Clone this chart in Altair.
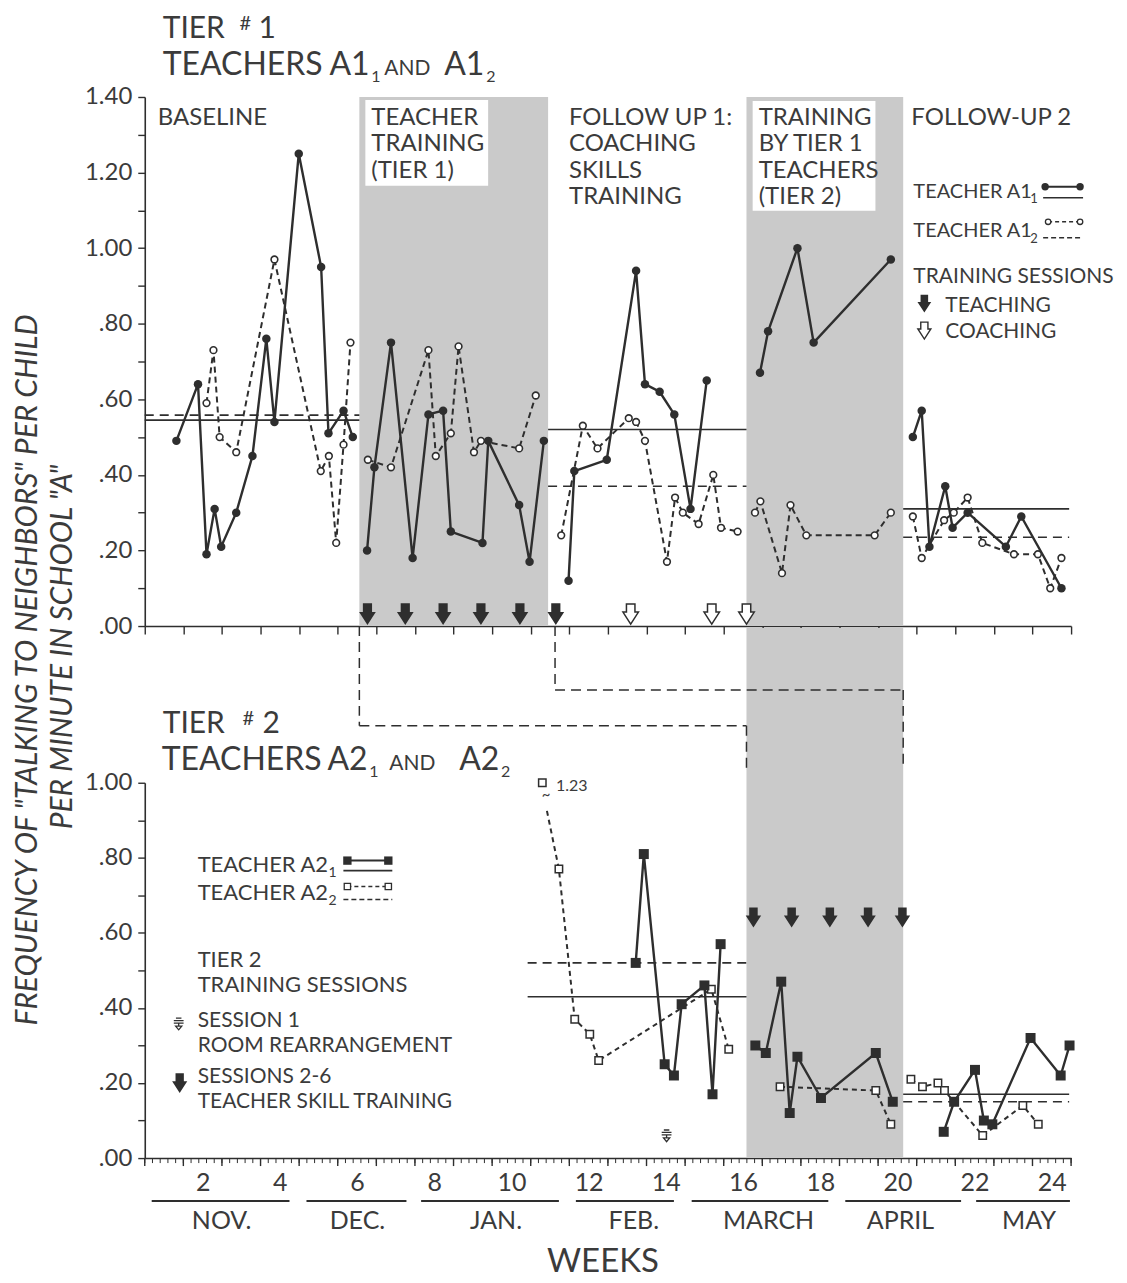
import altair as alt
import pandas as pd

FONT = "Lato"
INK = "#2e2e2e"
TXT = "#3b3b3b"
SHADE = "#cacaca"
W, H_TOP, H_BOT, GAP = 928, 530, 376, 157

# ------------------------------------------------------------------ data
# Tier 1 - Teacher A1_1 (solid line, filled circles): week, frequency
a11_baseline_wk = [1.32, 1.88, 2.10, 2.31, 2.48, 2.87, 3.29, 3.65, 3.86, 4.49, 5.07, 5.26, 5.65, 5.89]
a11_baseline_val = [0.49, 0.64, 0.19, 0.31, 0.21, 0.30, 0.45, 0.76, 0.54, 1.25, 0.95, 0.51, 0.57, 0.50]
a11_training_wk = [6.26, 6.45, 6.88, 7.44, 7.85, 8.23, 8.43, 9.25, 9.40, 10.20, 10.47, 10.84]
a11_training_val = [0.20, 0.42, 0.75, 0.18, 0.56, 0.57, 0.25, 0.22, 0.49, 0.32, 0.17, 0.49]
a11_follow1_wk = [11.48, 11.63, 12.47, 13.23, 13.46, 13.84, 14.22, 14.64, 15.06]
a11_follow1_val = [0.12, 0.41, 0.44, 0.94, 0.64, 0.62, 0.56, 0.31, 0.65]
a11_tier2_wk = [16.44, 16.65, 17.41, 17.83, 19.83]
a11_tier2_val = [0.67, 0.78, 1.00, 0.75, 0.97]
a11_follow2_wk = [20.40, 20.63, 20.83, 21.24, 21.43, 21.82, 22.81, 23.21, 24.25]
a11_follow2_val = [0.50, 0.57, 0.21, 0.37, 0.26, 0.30, 0.21, 0.29, 0.10]

# Tier 1 - Teacher A1_2 (dashed line, open circles)
a12_baseline_wk = [2.10, 2.28, 2.44, 2.87, 3.86, 5.06, 5.27, 5.46, 5.65, 5.83]
a12_baseline_val = [0.59, 0.73, 0.50, 0.46, 0.97, 0.41, 0.45, 0.22, 0.48, 0.75]
a12_training_wk = [6.28, 6.88, 7.85, 8.04, 8.43, 8.63, 9.03, 9.21, 10.20, 10.63]
a12_training_val = [0.44, 0.42, 0.73, 0.45, 0.51, 0.74, 0.46, 0.49, 0.47, 0.61]
a12_follow1_wk = [11.29, 11.85, 12.23, 13.04, 13.23, 13.46, 14.03, 14.24, 14.44, 14.85, 15.23, 15.43, 15.86]
a12_follow1_val = [0.24, 0.53, 0.47, 0.55, 0.54, 0.49, 0.17, 0.34, 0.30, 0.27, 0.40, 0.26, 0.25]
a12_tier2_wk = [16.31, 16.45, 17.01, 17.23, 17.64, 19.41, 19.83]
a12_tier2_val = [0.30, 0.33, 0.14, 0.32, 0.24, 0.24, 0.30]
a12_follow2_wk = [20.40, 20.63, 21.21, 21.46, 21.82, 22.20, 23.02, 23.64, 23.96, 24.25]
a12_follow2_val = [0.29, 0.18, 0.28, 0.30, 0.34, 0.22, 0.19, 0.19, 0.10, 0.18]

# Tier 2 - Teacher A2_1 (solid line, filled squares)
a21_baseline_wk = [13.22, 13.43, 13.97, 14.21, 14.41, 15.00, 15.21, 15.42]
a21_baseline_val = [0.52, 0.81, 0.25, 0.22, 0.41, 0.46, 0.17, 0.57]
a21_training_wk = [16.32, 16.59, 16.99, 17.21, 17.41, 18.02, 19.44, 19.88]
a21_training_val = [0.30, 0.28, 0.47, 0.12, 0.27, 0.16, 0.28, 0.15]
a21_follow_wk = [21.20, 21.47, 22.01, 22.24, 22.46, 23.45, 24.23, 24.46]
a21_follow_val = [0.07, 0.15, 0.235, 0.10, 0.09, 0.32, 0.22, 0.30]

# Tier 2 - Teacher A2_2 (dashed line, open squares)
a22_offscale_wk = [10.80]          # true value 1.23, drawn at the top of the axis
a22_offscale_val = [1.00]
a22_baseline_wk = [10.92, 11.23, 11.64, 12.03, 12.26, 15.18, 15.63]   # first point = end of axis break
a22_baseline_val = [0.925, 0.77, 0.37, 0.33, 0.26, 0.45, 0.29]
a22_training_wk = [16.96, 19.44, 19.83]
a22_training_val = [0.19, 0.18, 0.09]
a22_follow_wk = [20.35, 20.65, 21.05, 21.22, 22.21, 23.25, 23.65]
a22_follow_val = [0.21, 0.19, 0.20, 0.18, 0.06, 0.14, 0.09]

# phase means
top_mean_from = [0.5, 10.95, 20.15]
top_mean_to = [6.06, 16.09, 24.45]
a11_mean = [0.545, 0.52, 0.31]
a12_mean = [0.558, 0.37, 0.235]
bot_mean_from = [10.42, 20.15]
bot_mean_to = [16.09, 24.45]
a21_mean = [0.43, 0.17]
a22_mean = [0.52, 0.15]

# shaded training phases
shade_from = [6.06, 16.09]
shade_to = [10.95, 20.15]

# training sessions
tier1_teaching_wk = [6.27, 7.25, 8.23, 9.21, 10.22, 11.15]
tier1_coaching_wk = [13.09, 15.19, 16.09]
tier2_teaching_wk = [16.27, 17.26, 18.25, 19.24, 20.13]
tier2_session1_wk = [14.02]

# phase-change connectors between tiers (from week, to week)
conn_from = [6.06, 11.13]
conn_to = [16.09, 20.15]

# x axis
week_labels = list(range(2, 25, 2))
month_names = ["NOV.", "DEC.", "JAN.", "FEB.", "MARCH", "APRIL", "MAY"]
month_start = [0.68, 4.69, 7.66, 11.67, 14.67, 18.65, 22.04]
month_end = [4.25, 7.28, 11.23, 14.21, 18.21, 21.65, 24.47]
month_mid = [2.49, 6.01, 9.60, 13.17, 16.66, 20.08, 23.41]

# ------------------------------------------------------------------ helpers
dummy = pd.DataFrame({"k": [0]})


def frame(parts):
    rows = []
    for seg, wk, val in parts:
        rows += [{"w": w, "v": v, "seg": seg} for w, v in zip(wk, val)]
    return pd.DataFrame(rows)


XS = alt.Scale(domain=[0.5, 24.5], nice=False, zero=False)
YS_T = alt.Scale(domain=[0, 1.4], nice=False, zero=True)
YS_B = alt.Scale(domain=[0, 1.0], nice=False, zero=True)

LBL = ("round(datum.value*10) % 2 == 0 ? (datum.value < 1 ? "
       "replace(format(datum.value, '.2f'), '0.', '.') : format(datum.value, '.2f')) : ''")
YAX_T = alt.Axis(values=[round(i / 10, 1) for i in range(15)], labelExpr=LBL, title=None,
                 tickSize=7, labelPadding=6, labelFontSize=24, grid=False)
YAX_B = alt.Axis(values=[round(i / 10, 1) for i in range(11)], labelExpr=LBL, title=None,
                 tickSize=7, labelPadding=6, labelFontSize=24, grid=False)
XAX_T = alt.Axis(values=[0.5 + k for k in range(25)], labels=False, tickSize=8, title=None, grid=False)
XAX_B = alt.Axis(values=week_labels, ticks=False, labelPadding=12, labelFontSize=25,
                 title=None, grid=False, labelFlush=False)


def XT(f):
    return alt.X(f"{f}:Q", scale=XS, axis=XAX_T)


def XB(f):
    return alt.X(f"{f}:Q", scale=XS, axis=XAX_B)


def YT(f):
    return alt.Y(f"{f}:Q", scale=YS_T, axis=YAX_T)


def YB(f):
    return alt.Y(f"{f}:Q", scale=YS_B, axis=YAX_B)


def text(s, x, y, size=22, align="left", baseline="alphabetic", style="normal", angle=None, lh=None):
    kw = dict(text=s, fontSize=size, align=align, baseline=baseline, font=FONT, color=TXT, fontStyle=style)
    if angle is not None:
        kw["angle"] = angle
    if lh is not None:
        kw["lineHeight"] = lh
    return alt.Chart(dummy).mark_text(**kw).encode(x=alt.value(x), y=alt.value(y))


def hrule(x0, x1, y, dash=None, width=1.6):
    kw = dict(color=INK, strokeWidth=width)
    if dash:
        kw["strokeDash"] = dash
    return alt.Chart(dummy).mark_rule(**kw).encode(x=alt.value(x0), x2=alt.value(x1), y=alt.value(y))


def sym(x, y, shape, size, filled=True, sw=1.5):
    if filled:
        m = alt.Chart(dummy).mark_point(shape=shape, filled=True, color=INK, size=size, opacity=1)
    else:
        m = alt.Chart(dummy).mark_point(shape=shape, filled=True, fill="white", stroke=INK,
                                        strokeWidth=sw, size=size, opacity=1)
    return m.encode(x=alt.value(x), y=alt.value(y))


ARROW = "M-0.55,-1.3L0.55,-1.3L0.55,-0.25L1,-0.25L0,1.3L-1,-0.25L-0.55,-0.25Z"
SESSION1 = "M-0.45,-1L0.45,-1M-0.8,-0.6L0.8,-0.6M-0.8,-0.2L0.8,-0.2M0,-0.2L0,0.3M-0.5,0.3L0.5,0.3L0,0.9Z"

# ------------------------------------------------------------------ tier 1 panel
a11 = frame([("b", a11_baseline_wk, a11_baseline_val), ("t", a11_training_wk, a11_training_val),
             ("f1", a11_follow1_wk, a11_follow1_val), ("t2", a11_tier2_wk, a11_tier2_val),
             ("f2", a11_follow2_wk, a11_follow2_val)])
a12 = frame([("b", a12_baseline_wk, a12_baseline_val), ("t", a12_training_wk, a12_training_val),
             ("f1", a12_follow1_wk, a12_follow1_val), ("t2", a12_tier2_wk, a12_tier2_val),
             ("f2", a12_follow2_wk, a12_follow2_val)])
shade_df = pd.DataFrame({"x0": shade_from, "x1": shade_to})
mean_t = pd.DataFrame({"x0": top_mean_from, "x1": top_mean_to, "a": a11_mean, "b": a12_mean})
teach_t = pd.DataFrame({"w": tier1_teaching_wk})
coach_t = pd.DataFrame({"w": tier1_coaching_wk})

top_layers = [
    alt.Chart(shade_df).mark_rect(color=SHADE).encode(x=XT("x0"), x2="x1", y=alt.value(0), y2=alt.value(H_TOP)),
    alt.Chart(dummy).mark_rect(color="white").encode(x=alt.value(221), x2=alt.value(344), y=alt.value(3), y2=alt.value(89)),
    alt.Chart(dummy).mark_rect(color="white").encode(x=alt.value(609), x2=alt.value(732), y=alt.value(4), y2=alt.value(114)),
    alt.Chart(mean_t).mark_rule(color=INK, strokeWidth=1.6).encode(x=XT("x0"), x2="x1", y=YT("a")),
    alt.Chart(mean_t).mark_rule(color=INK, strokeWidth=1.6, strokeDash=[9, 6]).encode(x=XT("x0"), x2="x1", y=YT("b")),
    alt.Chart(a12).mark_line(color=INK, strokeWidth=2, strokeDash=[6, 4]).encode(x=XT("w"), y=YT("v"), detail="seg:N"),
    alt.Chart(a11).mark_line(color=INK, strokeWidth=2.4).encode(x=XT("w"), y=YT("v"), detail="seg:N"),
    alt.Chart(a12).mark_point(shape="circle", filled=True, fill="white", stroke=INK, strokeWidth=1.6,
                              size=45, opacity=1).encode(x=XT("w"), y=YT("v")),
    alt.Chart(a11).mark_point(shape="circle", filled=True, color=INK, size=72, opacity=1).encode(x=XT("w"), y=YT("v")),
    alt.Chart(teach_t).mark_point(shape=ARROW, filled=True, color=INK, size=280, opacity=1).encode(
        x=XT("w"), y=alt.value(H_TOP - 12)),
    alt.Chart(coach_t).mark_point(shape=ARROW, filled=True, fill="white", stroke=INK, strokeWidth=1.5,
                                  size=240, opacity=1).encode(x=XT("w"), y=alt.value(H_TOP - 12)),
    # titles
    text("TIER", 18, -59, size=30),
    text("#", 95, -67, size=20),
    text("1", 114, -59, size=30),
    text("TEACHERS", 18, -22, size=32),
    text("A1", 185, -22, size=32),
    text("1", 227, -15, size=16),
    text("AND", 240, -22, size=21),
    text("A1", 300, -22, size=32),
    text("2", 342, -15, size=16),
    # phase labels
    text("BASELINE", 13, 28, size=24),
    text(["TEACHER", "TRAINING", "(TIER 1)"], 227, 28, size=24, lh=26.5),
    text(["FOLLOW UP 1:", "COACHING", "SKILLS", "TRAINING"], 425, 28, size=24, lh=26.5),
    text(["TRAINING", "BY TIER 1", "TEACHERS", "(TIER 2)"], 615, 28, size=24, lh=26.5),
    text("FOLLOW-UP 2", 768, 28, size=24),
    # legend
    text("TEACHER A1", 770, 101, size=20),
    text("1", 887, 106, size=13),
    hrule(902, 937, 90, width=2),
    sym(902, 90, "circle", 55),
    sym(937, 90, "circle", 55),
    hrule(900, 940, 101, width=1.6),
    text("TEACHER A1", 770, 140, size=20),
    text("2", 887, 146, size=13),
    hrule(905, 937, 125, dash=[4, 3], width=1.4),
    sym(905, 125, "circle", 30, filled=False, sw=1.3),
    sym(937, 125, "circle", 30, filled=False, sw=1.3),
    hrule(900, 940, 141, dash=[5, 3], width=1.4),
    text("TRAINING SESSIONS", 770, 186, size=21),
    sym(781, 207, ARROW, 190),
    text("TEACHING", 802, 215, size=21),
    sym(781, 234, ARROW, 170, filled=False, sw=1.4),
    text("COACHING", 802, 241, size=21),
    # y title (spans both panels)
    text('FREQUENCY OF "TALKING TO NEIGHBORS" PER CHILD', -117, 574, size=30, align="center",
         baseline="middle", style="italic", angle=270),
    text('PER MINUTE IN SCHOOL "A"', -82, 551, size=30, align="center",
         baseline="middle", style="italic", angle=270),
]
top = alt.layer(*top_layers).properties(width=W, height=H_TOP)

# ------------------------------------------------------------------ tier 2 panel
a21 = frame([("b", a21_baseline_wk, a21_baseline_val), ("t", a21_training_wk, a21_training_val),
             ("f", a21_follow_wk, a21_follow_val)])
a22_line = frame([("b", a22_baseline_wk, a22_baseline_val), ("t", a22_training_wk, a22_training_val),
                  ("f", a22_follow_wk, a22_follow_val)])
a22_pts = frame([("o", a22_offscale_wk, a22_offscale_val), ("b", a22_baseline_wk[1:], a22_baseline_val[1:]),
                 ("t", a22_training_wk, a22_training_val), ("f", a22_follow_wk, a22_follow_val)])
mean_b = pd.DataFrame({"x0": bot_mean_from, "x1": bot_mean_to, "a": a21_mean, "b": a22_mean})
band_b = pd.DataFrame({"x0": shade_from[1:], "x1": shade_to[1:]})
teach_b = pd.DataFrame({"w": tier2_teaching_wk})
sess1 = pd.DataFrame({"w": tier2_session1_wk})
conn = pd.DataFrame({"x0": conn_from, "x1": conn_to})
minor = pd.DataFrame({"t": [0.5 + 0.2 * i for i in range(121)]})
major = pd.DataFrame({"t": [0.5 + k for k in range(25)]})
months = pd.DataFrame({"name": month_names, "s": month_start, "e": month_end, "m": month_mid})

DASH = [10, 6]
conn_layers = []
for i, ylev in enumerate([-57, -93]):
    row = conn.iloc[[i]]
    conn_layers += [
        alt.Chart(row).mark_rule(color=INK, strokeWidth=1.5, strokeDash=DASH).encode(
            x=XB("x0"), y=alt.value(-157), y2=alt.value(ylev)),
        alt.Chart(row).mark_rule(color=INK, strokeWidth=1.5, strokeDash=DASH).encode(
            x=XB("x0"), x2="x1", y=alt.value(ylev)),
        alt.Chart(row).mark_rule(color=INK, strokeWidth=1.5, strokeDash=DASH).encode(
            x=XB("x1"), y=alt.value(ylev), y2=alt.value(-14)),
    ]

bot_layers = [
    alt.Chart(band_b).mark_rect(color=SHADE).encode(x=XB("x0"), x2="x1", y=alt.value(-155), y2=alt.value(H_BOT)),
    *conn_layers,
    alt.Chart(mean_b).mark_rule(color=INK, strokeWidth=1.6).encode(x=XB("x0"), x2="x1", y=YB("a")),
    alt.Chart(mean_b).mark_rule(color=INK, strokeWidth=1.6, strokeDash=[9, 6]).encode(x=XB("x0"), x2="x1", y=YB("b")),
    alt.Chart(a22_line).mark_line(color=INK, strokeWidth=2, strokeDash=[5, 4]).encode(x=XB("w"), y=YB("v"), detail="seg:N"),
    alt.Chart(a21).mark_line(color=INK, strokeWidth=2.4).encode(x=XB("w"), y=YB("v"), detail="seg:N"),
    alt.Chart(a22_pts).mark_point(shape="square", filled=True, fill="white", stroke=INK, strokeWidth=1.5,
                                  size=55, opacity=1).encode(x=XB("w"), y=YB("v")),
    alt.Chart(a21).mark_point(shape="square", filled=True, color=INK, size=100, opacity=1).encode(x=XB("w"), y=YB("v")),
    alt.Chart(teach_b).mark_point(shape=ARROW, filled=True, color=INK, size=240, opacity=1).encode(
        x=XB("w"), y=alt.value(135)),
    alt.Chart(sess1).mark_point(shape=SESSION1, filled=False, color=INK, strokeWidth=1.3, size=150, opacity=1).encode(
        x=XB("w"), y=alt.value(354)),
    alt.Chart(minor).mark_rule(color=INK, strokeWidth=1).encode(x=XB("t"), y=alt.value(H_BOT), y2=alt.value(H_BOT + 5)),
    alt.Chart(major).mark_rule(color=INK, strokeWidth=1.4).encode(x=XB("t"), y=alt.value(H_BOT), y2=alt.value(H_BOT + 8)),
    alt.Chart(months).mark_rule(color=INK, strokeWidth=2).encode(x=XB("s"), x2="e", y=alt.value(419)),
    alt.Chart(months).mark_text(font=FONT, fontSize=25, color=TXT, baseline="alphabetic").encode(
        x=XB("m"), y=alt.value(447), text="name:N"),
    text("WEEKS", 459, 490, size=33, align="center"),
    text("1.23", 412, 8, size=16),
    text("~", 402, 17, size=15, align="center"),
    # titles
    text("TIER", 18, -50, size=30),
    text("#", 98, -58, size=20),
    text("2", 118, -50, size=30),
    text("TEACHERS", 17, -13, size=32),
    text("A2", 183, -13, size=32),
    text("1", 225, -6, size=16),
    text("AND", 245, -13, size=21),
    text("A2", 315, -13, size=32),
    text("2", 357, -6, size=16),
    # legend
    text("TEACHER A2", 53, 89, size=22),
    text("1", 184, 94, size=14),
    hrule(203, 244, 78, width=2),
    sym(203, 78, "square", 70),
    sym(244, 78, "square", 70),
    hrule(199, 248, 88, width=1.6),
    text("TEACHER A2", 53, 117, size=22),
    text("2", 184, 122, size=14),
    hrule(203, 244, 104, dash=[4, 3], width=1.4),
    sym(203, 104, "square", 40, filled=False, sw=1.3),
    sym(244, 104, "square", 40, filled=False, sw=1.3),
    hrule(199, 248, 117, dash=[5, 3], width=1.4),
    text(["TIER 2", "TRAINING SESSIONS"], 53, 185, size=22, lh=25),
    alt.Chart(dummy).mark_point(shape=SESSION1, filled=False, color=INK, strokeWidth=1.3, size=150, opacity=1).encode(
        x=alt.value(34), y=alt.value(242)),
    text(["SESSION 1", "ROOM REARRANGEMENT"], 53, 245, size=21, lh=25),
    sym(35, 301, ARROW, 230),
    text(["SESSIONS 2-6", "TEACHER SKILL TRAINING"], 53, 301, size=21, lh=25),
]
bottom = alt.layer(*bot_layers).properties(width=W, height=H_BOT)

chart = (
    alt.vconcat(top, bottom, spacing=GAP, bounds="flush")
    .resolve_scale(y="independent")
    .configure_view(stroke=None)
    .configure_axis(domainColor=INK, domainWidth=1.6, tickColor=INK, tickWidth=1.4,
                    labelFont=FONT, labelColor=TXT, grid=False)
    .properties(padding={"left": 5, "right": 5, "top": 5, "bottom": 0}, background="white")
)

chart.save("out.html", embed_options={"renderer": "svg", "actions": False})
